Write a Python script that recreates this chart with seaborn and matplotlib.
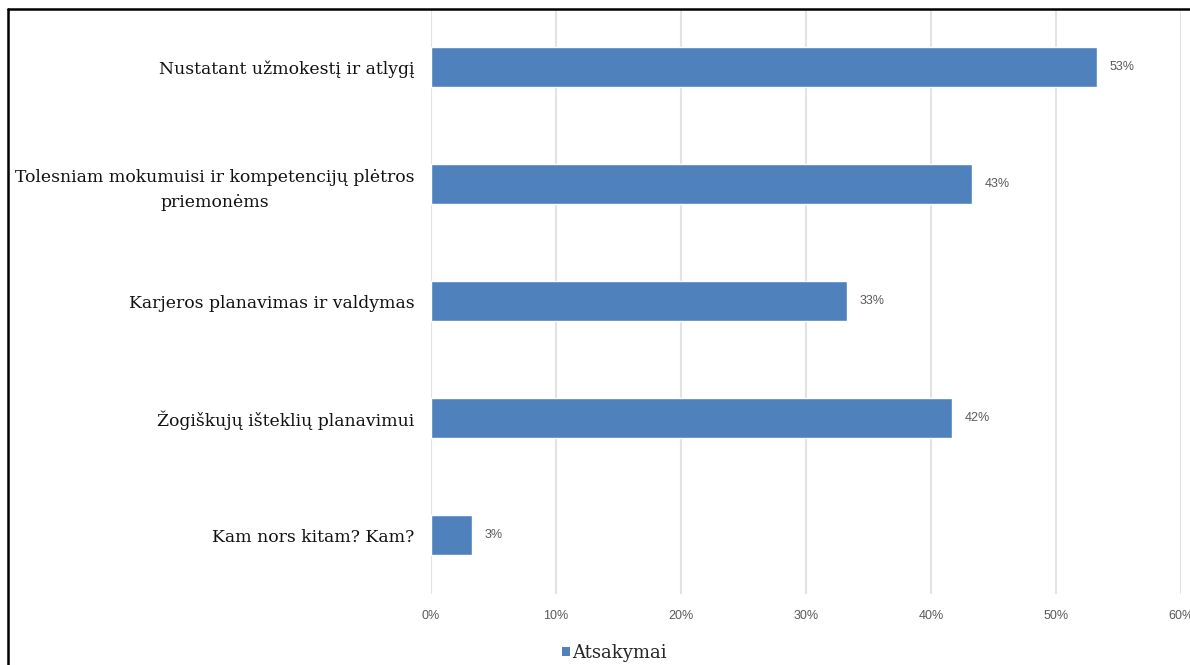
import matplotlib
matplotlib.use("Agg")
import matplotlib.pyplot as plt
from matplotlib.lines import Line2D
from matplotlib.patches import Patch
import seaborn as sns
import pandas as pd

categories = [
    "Nustatant užmokestį ir atlygį",
    "Tolesniam mokumuisi ir kompetencijų plėtros\npriemonėms",
    "Karjeros planavimas ir valdymas",
    "Žogiškujų išteklių planavimui",
    "Kam nors kitam? Kam?",
]
values = [53.3, 43.3, 33.3, 41.7, 3.3]
tick_values = [0, 10, 20, 30, 40, 50, 60]
tick_labels = ["0%", "10%", "20%", "30%", "40%", "50%", "60%"]
series_name = "Atsakymai"

bar_color = "#4F81BD"
grey_text = "#595959"
serif = ["DejaVu Serif", "Liberation Serif"]

sns.set_theme(style="white")
plt.rcParams["font.family"] = ["Liberation Sans", "DejaVu Sans"]

df = pd.DataFrame({"kategorija": categories, "reiksme": values})

fig = plt.figure(figsize=(11.9, 6.65), dpi=100)
ax = fig.add_axes([0.3622, 0.1075, 0.6302, 0.8797])

sns.barplot(data=df, y="kategorija", x="reiksme", orient="h",
            color=bar_color, saturation=1, width=0.35, ax=ax)

ax.set_xlim(0, 60)
ax.set_ylim(4.5, -0.5)
ax.set_xticks(tick_values)
ax.set_xticklabels(tick_labels, color=grey_text, fontsize=9)
ax.tick_params(axis="x", length=0, pad=12)
ax.tick_params(axis="y", length=0, pad=12)
for lbl in ax.get_yticklabels():
    lbl.set_fontfamily(serif)
    lbl.set_fontsize(12.4)
    lbl.set_color("#111111")
    lbl.set_multialignment("center")
    lbl.set_linespacing(1.6)
ax.set_xlabel("")
ax.set_ylabel("")
ax.grid(axis="x", color="#E3E3E3", linewidth=1.5)
ax.set_axisbelow(True)
for s in ax.spines.values():
    s.set_visible(False)

for i, v in enumerate(values):
    ax.annotate(f"{v:.0f}%", xy=(v, i), xytext=(9, 0), textcoords="offset points",
                ha="left", va="center", fontsize=9, color=grey_text)

handle = Patch(facecolor=bar_color, edgecolor="none")
fig.legend([handle], [series_name], loc="center", bbox_to_anchor=(0.516, 0.018),
           frameon=False, handlelength=0.45, handleheight=0.45, handletextpad=0.1,
           prop={"family": serif, "size": 13})

# frame lines along the top and left edges of the figure
fig.add_artist(Line2D([8 / 1190, 8 / 1190], [0, 1 - 9 / 665], transform=fig.transFigure,
                      color="black", linewidth=1.8))
fig.add_artist(Line2D([8 / 1190, 1], [1 - 9 / 665, 1 - 9 / 665], transform=fig.transFigure,
                      color="black", linewidth=1.8))

fig.savefig("out.png", dpi=100, facecolor="white")
